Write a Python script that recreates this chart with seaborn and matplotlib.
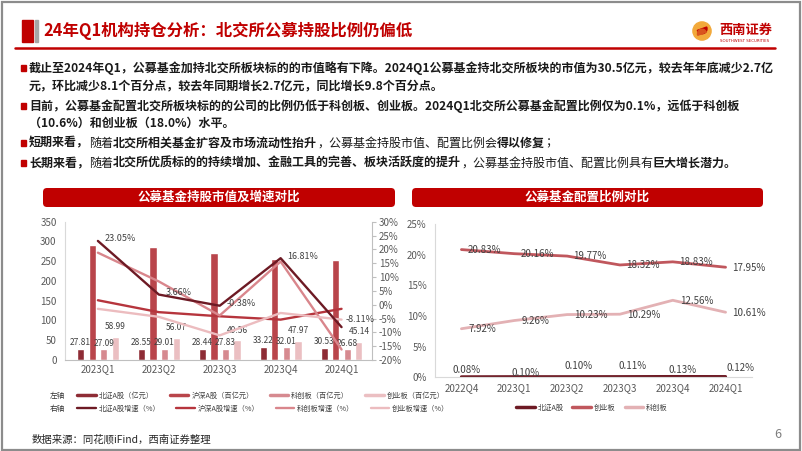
import matplotlib
matplotlib.use("Agg")
import matplotlib.pyplot as plt
import matplotlib.transforms as mtrans
import seaborn as sns
import pandas as pd
import numpy as np
from matplotlib.patches import FancyBboxPatch, Rectangle, Circle, Wedge
from matplotlib.lines import Line2D

# ---------------- data ----------------
quarters = ["2023Q1", "2023Q2", "2023Q3", "2023Q4", "2024Q1"]
bar_series = ["北证A股（亿元）", "沪深A股（百亿元）", "科创板（百亿元）", "创业板（百亿元）"]
bj_value = [27.81, 28.55, 28.44, 33.22, 30.53]
hs_value = [292.0, 285.0, 271.0, 256.0, 252.0]
kc_value = [27.09, 29.01, 27.83, 32.01, 26.68]
cy_value = [58.99, 56.07, 49.56, 47.97, 45.14]

line_series = ["北证A股增速（%）", "沪深A股增速（%）", "科创板增速（%）", "创业板增速（%）"]
bj_growth = [23.05, 3.66, -0.38, 16.81, -8.11]
hs_growth = [1.6, -2.7, -4.2, -5.4, -1.5]
kc_growth = [18.8, 8.4, -3.9, 15.6, -16.2]
cy_growth = [-1.5, -4.4, -11.1, -3.0, -5.4]

quarters2 = ["2022Q4", "2023Q1", "2023Q2", "2023Q3", "2023Q4", "2024Q1"]
ratio_series = ["北证A股", "创业板", "科创板"]
bj_ratio = [0.08, 0.10, 0.10, 0.11, 0.13, 0.12]
cy_ratio = [20.83, 20.16, 19.77, 18.32, 18.83, 17.95]
kc_ratio = [7.92, 9.26, 10.23, 10.29, 12.56, 10.61]

# ---------------- style ----------------
sns.set_style("white")
plt.rcParams['font.family'] = ['Noto Sans CJK SC', 'DejaVu Sans']
plt.rcParams['axes.unicode_minus'] = False

W, H = 802, 451
fig = plt.figure(figsize=(W / 100, H / 100), dpi=100)
fig.patch.set_facecolor("white")
ID = mtrans.IdentityTransform()
renderer = fig.canvas.get_renderer()


def fx(px):
    return px / W


def fy(py):
    return 1 - py / H


def prect(x0, y0, x1, y1, **kw):
    """rectangle in top-left pixel coords"""
    r = Rectangle((x0, H - y1), x1 - x0, y1 - y0, transform=ID, **kw)
    fig.patches.append(r)
    return r


RED = "#c00000"
TXT = "#1a1a1a"
GREY = "#595959"

# frame
prect(1.5, 1.5, 799.5, 449.5, fill=False, edgecolor="#8c8c8c", lw=1.6)

# header
prect(22, 20, 33, 42, color=RED)
prect(35, 20, 38, 42, color="#a6a6a6")
fig.text(fx(43), fy(31), "24年Q1机构持仓分析：北交所公募持股比例仍偏低", fontsize=11.8,
         fontweight="bold", color=RED, va="center", ha="left")
fig.add_artist(Line2D([fx(15), fx(775)], [fy(47.5), fy(47.5)], color=RED, lw=1.8,
                      transform=fig.transFigure))

# logo
lax = fig.add_axes([fx(692), fy(41), 20 / W, 20 / H])
lax.set_xlim(-1.1, 1.1)
lax.set_ylim(-1.1, 1.1)
lax.set_aspect("equal")
lax.axis("off")
lax.add_patch(Circle((0, 0), 1, color="#f2a93b"))
lax.add_patch(Wedge((0, 0.25), 0.55, 200, 20, color=RED))
lax.add_patch(Wedge((0, -0.3), 0.5, 20, 200, color="#d9541e"))
fig.text(fx(719), fy(30), "西南证券", fontsize=9.5, fontweight="bold", color=RED,
         va="center", ha="left")
fig.text(fx(719.5), fy(40.5), "SOUTHWEST SECURITIES", fontsize=2.8, color=RED,
         va="center", ha="left", family=["DejaVu Sans"])

# ---------------- bullet text ----------------
lines = [
    (True, [("截止至2024年Q1，公募基金加持北交所板块标的的市值略有下降。2024Q1公募基金持北交所板块的市值为30.5亿元，较去年年底减少2.7亿", True)]),
    (False, [("元，环比减少8.1个百分点，较去年同期增长2.7亿元，同比增长9.8个百分点。", True)]),
    (True, [("目前，公募基金配置北交所板块标的的公司的比例仍低于科创板、创业板。2024Q1北交所公募基金配置比例仅为0.1%，远低于科创板", True)]),
    (False, [("（10.6%）和创业板（18.0%）水平。", True)]),
    (True, [("短期来看，", True), ("随着", False), ("北交所相关基金扩容及市场流动性抬升", True),
            ("，公募基金持股市值、配置比例会", False), ("得以修复", True), ("；", False)]),
    (True, [("长期来看，", True), ("随着", False), ("北交所优质标的的持续增加、金融工具的完善、板块活跃度的提升", True),
            ("，公募基金持股市值、配置比例具有", False), ("巨大增长潜力。", True)]),
]
line_y = [68, 86, 106, 123, 143, 163]
TX0 = 29

# choose body font size so that first line spans the text width
probe = fig.text(0, 0, lines[0][1][0][0], fontsize=9, fontweight="bold")
wprobe = probe.get_window_extent(renderer=renderer).width
probe.remove()
body_fs = 9 * (773 - TX0) / wprobe

for (bullet, segs), yy in zip(lines, line_y):
    if bullet:
        prect(21, yy - 3, 26, yy + 2.5, color=RED)
    xcur = TX0
    for s, bold in segs:
        t = fig.text(fx(xcur), fy(yy), s, fontsize=body_fs,
                     fontweight="bold" if bold else "normal",
                     color=TXT, va="center", ha="left")
        xcur = t.get_window_extent(renderer=renderer).x1

# ---------------- banners ----------------
for (x0, x1, txt) in [(43, 395, "公募基金持股市值及增速对比"), (412, 763, "公募基金配置比例对比")]:
    b = FancyBboxPatch((x0, H - 207), x1 - x0, 19, boxstyle="round,pad=0,rounding_size=4",
                       transform=ID, facecolor=RED, edgecolor="none")
    fig.patches.append(b)
    fig.text(fx((x0 + x1) / 2), fy(197.5), txt, fontsize=9, fontweight="bold",
             color="white", ha="center", va="center")

# ---------------- left chart ----------------
bar_colors = ["#8e2c35", "#b9454b", "#d68a90", "#ebbfc2"]
line_colors = ["#6d1a24", "#b6353d", "#d9868c", "#ecbcbf"]

ax1 = fig.add_axes([fx(65), fy(360), (372 - 65) / W, (360 - 221.7) / H])
df = pd.DataFrame({
    "季度": quarters * 4,
    "值": bj_value + hs_value + kc_value + cy_value,
    "系列": sum([[s] * len(quarters) for s in bar_series], []),
})
sns.barplot(data=df, x="季度", y="值", hue="系列", hue_order=bar_series,
            palette=bar_colors, saturation=1, width=0.76, gap=0.38,
            ax=ax1, legend=False, errorbar=None)
ax1.set_ylim(0, 350)
ax1.set_yticks(range(0, 351, 50))
ax1.set_xlabel("")
ax1.set_ylabel("")
for i, pad in [(0, 1.5), (2, 1.2), (3, 4.2)]:
    ax1.bar_label(ax1.containers[i], fmt="%.2f", fontsize=6, color="#404040", padding=pad)

ax2 = ax1.twinx()
for vals, c in zip([hs_growth, kc_growth, cy_growth, bj_growth],
                   [line_colors[1], line_colors[2], line_colors[3], line_colors[0]]):
    sns.lineplot(x=np.arange(len(quarters)), y=vals, ax=ax2, color=c, lw=1.7)
growth_label_offsets = [(5, 1.5), (5, 1.5), (5, 1.5), (5, 1.5), (3, 5.5)]
for i, v in enumerate(bj_growth):
    ax2.annotate(f"{v:.2f}%", (i, v), xytext=growth_label_offsets[i],
                 textcoords="offset points", fontsize=6.5, color="#404040",
                 ha="left", va="center")
ax2.set_ylim(-20, 30)
ax2.set_yticks(range(-20, 31, 5))
ax2.set_yticklabels([f"{v}%" for v in range(-20, 31, 5)])
ax1.set_xlim(-0.54, 4.5)
ax2.set_xlim(-0.54, 4.5)
ax2.set_ylabel("")

for a in (ax1, ax2):
    for sp in a.spines.values():
        sp.set_visible(False)
ax1.spines["left"].set_visible(True)
ax1.spines["left"].set_color("#d9d9d9")
ax1.spines["bottom"].set_visible(True)
ax1.spines["bottom"].set_color("#bfbfbf")
ax2.spines["right"].set_visible(True)
ax2.spines["right"].set_color("#bfbfbf")
ax1.tick_params(axis="y", length=0, labelsize=7, labelcolor=GREY, pad=6)
ax1.tick_params(axis="x", length=0, labelsize=7, labelcolor=GREY, pad=3)
ax2.tick_params(axis="y", length=3, direction="out", color="#bfbfbf", labelsize=7,
                labelcolor=GREY, pad=2)

# left legends (two rows)
fig.text(fx(50), fy(396), "左轴", fontsize=5.5, color="#333333", va="center", ha="left")
fig.text(fx(50), fy(409), "右轴", fontsize=5.5, color="#333333", va="center", ha="left")
h1 = [Line2D([], [], color=c, lw=2.5) for c in bar_colors]
h2 = [Line2D([], [], color=c, lw=1.7) for c in line_colors]
leg_kw = dict(loc="center left", ncol=4, frameon=False, fontsize=5.2, handlelength=2.6,
              handletextpad=0.4, columnspacing=2.2, borderaxespad=0, borderpad=0,
              labelcolor="#404040")
fig.legend(h1, bar_series, bbox_to_anchor=(fx(77), fy(396)), **leg_kw)
fig.legend(h2, line_series, bbox_to_anchor=(fx(77), fy(409)), **leg_kw)

# ---------------- right chart ----------------
ratio_colors = ["#6d1a24", "#c0575d", "#e3b1b4"]
ax3 = fig.add_axes([fx(435), fy(377.3), (752 - 435) / W, (377.3 - 224) / H])
xs = np.arange(len(quarters2))
sns.lineplot(x=xs, y=kc_ratio, ax=ax3, color=ratio_colors[2], lw=2)
sns.lineplot(x=xs, y=cy_ratio, ax=ax3, color=ratio_colors[1], lw=2)
sns.lineplot(x=xs, y=bj_ratio, ax=ax3, color=ratio_colors[0], lw=2.2)
ax3.set_xlim(-0.5, 5.5)
ax3.set_ylim(0, 25)
ax3.set_yticks(range(0, 26, 5))
ax3.set_yticklabels([f"{v}%" for v in range(0, 26, 5)])
ax3.set_xticks(xs)
ax3.set_xticklabels(quarters2)
for sp in ax3.spines.values():
    sp.set_visible(False)
ax3.spines["left"].set_visible(True)
ax3.spines["left"].set_color("#d9d9d9")
ax3.spines["bottom"].set_visible(True)
ax3.spines["bottom"].set_color("#d9d9d9")
ax3.tick_params(axis="both", length=0, labelsize=7, labelcolor=GREY)
ax3.tick_params(axis="y", pad=6)
ax3.tick_params(axis="x", pad=4)

for i, v in enumerate(cy_ratio):
    ax3.annotate(f"{v:.2f}%", (i, v), xytext=(4.5, -0.3), textcoords="offset points",
                 fontsize=7, color="#404040", ha="left", va="center")
for i, v in enumerate(kc_ratio):
    ax3.annotate(f"{v:.2f}%", (i, v), xytext=(5, -0.3), textcoords="offset points",
                 fontsize=7, color="#404040", ha="left", va="center")
bj_label_offsets = [(4, 5), (8, 3), (8, 8), (9, 8), (7, 5), (11, 6)]
for i, v in enumerate(bj_ratio):
    dx, dy = bj_label_offsets[i]
    ax3.annotate(f"{v:.2f}%", (i, v), xytext=(dx, dy), textcoords="offset points",
                 fontsize=7, color="#404040", ha="center", va="center")

h3 = [Line2D([], [], color=c, lw=2.5) for c in ratio_colors]
fig.legend(h3, ratio_series, loc="center", ncol=3, frameon=False, fontsize=5.2,
           handlelength=2.6, handletextpad=0.4, columnspacing=1.2, borderaxespad=0,
           borderpad=0, labelcolor="#404040", bbox_to_anchor=(fx(592), fy(408)))

# footer
fig.text(fx(32), fy(440), "数据来源：同花顺iFind，西南证券整理", fontsize=7.5, color="#262626",
         va="center", ha="left", style="italic")
fig.text(fx(778), fy(435), "6", fontsize=9, color="#7f7f7f", va="center", ha="center")

fig.savefig("out.png", dpi=100)
